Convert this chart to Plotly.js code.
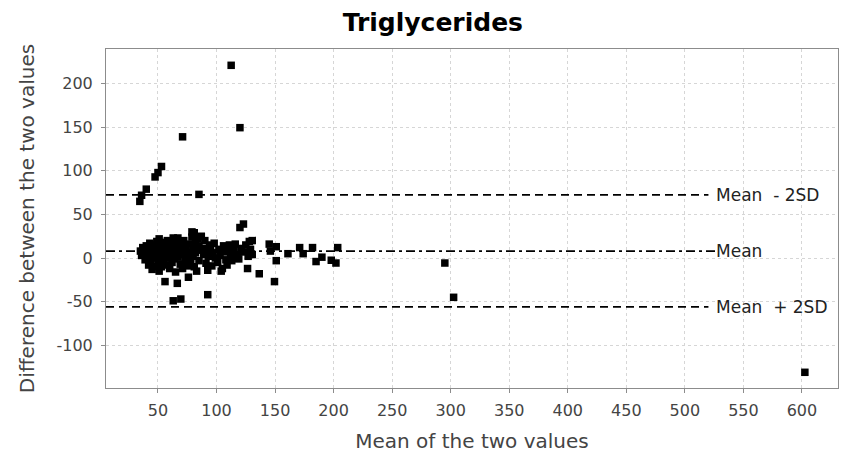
<!DOCTYPE html>
<html>
<head>
<meta charset="utf-8">
<script src="https://cdn.plot.ly/plotly-3.0.1.min.js"></script>
<style>html,body{margin:0;padding:0;background:#fff;}#chart{width:847px;height:461px;}</style>
</head>
<body>
<div id="chart"></div>
<script>
// Bland-Altman data: mean of the two values (x) and their difference (y)
const meanVals = [
  112.5, 120, 71, 53, 50, 47.5, 40, 36, 34.5, 85, 123, 120,
  56, 66.5, 76, 63, 69.5, 92.5, 92.5, 104, 126.5, 136.5, 149.5, 151,
  145, 151, 146, 161, 171, 174, 182, 185, 190, 198, 202, 203.5,
  130.5, 130.5, 128, 111, 94, 81, 295, 302.5, 602.5,
  35, 36, 37, 38, 39, 40, 41, 42, 42, 43, 44, 44, 45, 45,
  46, 47, 47, 48, 49, 49, 50, 50, 51, 51, 52, 52, 53, 53, 54, 54, 55, 55,
  56, 57, 57, 58, 58, 59, 60, 60, 61, 62, 62, 63, 63, 64, 65, 65,
  66, 67, 67, 68, 69, 70, 70, 71, 72, 72, 73, 74, 75, 75,
  76, 77, 78, 79, 79, 80, 80, 81, 82, 82, 83, 84, 84, 85, 85,
  87, 88, 89, 90, 91, 92, 93, 95, 96, 97, 98, 99,
  101, 102, 103, 105, 106, 107, 108, 109, 110, 112, 113, 115, 116, 118, 119, 121, 123, 125, 127, 129
];
const diffVals = [
  221, 149.5, 139, 105, 98, 93, 79, 72, 65, 73, 39, 35,
  -27, -29, -22, -49, -47, -42, -14, -15, -12, -18, -27, -3,
  16, 13, 8, 5, 12, 5, 12, -4, 1, -2.5, -5.7, 12,
  20, 4, 19, 15, 15, 29, -5.7, -45, -131,
  8, 3, 12, 6, -2, 14, 9, 2, -8, 17, 11, -4, 5, -13,
  15, 9, 0, -10, 19, 4, 12, -6, 22, -15, 7, 0, 15, -10, 18, 3, -4, 10,
  14, 5, -8, 20, 0, 10, -12, 16, 3, 8, -5, 23, 13, -1, 6, -16,
  17, 23, 1, 10, -7, 14, 4, -12, 20, 8, -2, 12, 3, -9,
  16, 7, -4, 24, 30, 12, 2, -10, 18, 6, -15, 22, 9, -3, 14,
  25, 11, 4, 20, -6, 9, 2, 12, -9, 6, 17, 0,
  -5, 10, 3, -12, 14, 7, -2, -8, 12, 5, -3, 9, 16, 4, -1, 11, 7, 15, 2, 10
];

// Reference lines (as labelled in the original chart)
const limitNames = ["Mean  - 2SD", "Mean", "Mean  + 2SD"];
const limitValues = [72.5, 8, -56];
const limitDash = ["8px,5px", "9px,4px,3px,4px", "8px,5px"];

const xTicks = [50, 100, 150, 200, 250, 300, 350, 400, 450, 500, 550, 600];
const yTicks = [-100, -50, 0, 50, 100, 150, 200];

const trace = {
  type: "scatter",
  mode: "markers",
  x: meanVals,
  y: diffVals,
  marker: {symbol: "square", size: 7.5, color: "#000000", line: {width: 0}},
  hoverinfo: "x+y"
};

const shapes = limitValues.map((v, i) => ({
  type: "line", xref: "paper", yref: "y",
  x0: 0, x1: i === 1 ? 0.832 : 0.823, y0: v, y1: v,
  line: {color: "#000000", width: 1.8, dash: limitDash[i]}
}));

const annotations = limitValues.map((v, i) => ({
  xref: "paper", yref: "y", x: 0.831, y: v,
  xanchor: "left", yanchor: "middle", showarrow: false,
  text: limitNames[i],
  font: {family: "DejaVu Sans", size: 17, color: "#222222"}
}));

const layout = {
  width: 847, height: 461,
  margin: {l: 106, r: 9, t: 49, b: 73, pad: 0},
  paper_bgcolor: "#ffffff", plot_bgcolor: "#ffffff",
  showlegend: false,
  font: {family: "DejaVu Sans", color: "#444444"},
  title: {
    text: "<b>Triglycerides</b>",
    font: {family: "DejaVu Sans", size: 25, color: "#000000"},
    x: 0.511, xref: "container", xanchor: "center",
    y: 0.952, yref: "container", yanchor: "middle"
  },
  xaxis: {
    range: [5.6, 630.8],
    tickvals: xTicks, ticktext: xTicks.map(String),
    showgrid: true, gridcolor: "#d6d6d6", gridwidth: 1, griddash: "3px,3px",
    zeroline: false,
    showline: true, mirror: true, linecolor: "#8c8c8c", linewidth: 1,
    ticks: "outside", ticklen: 4, tickcolor: "#8c8c8c",
    ticklabelstandoff: 4,
    tickfont: {family: "DejaVu Sans", size: 16, color: "#444444"},
    title: {text: "Mean of the two values", standoff: 14,
            font: {family: "DejaVu Sans", size: 20, color: "#444444"}},
    automargin: false
  },
  yaxis: {
    range: [-149, 239.7],
    tickvals: yTicks, ticktext: yTicks.map(String),
    showgrid: true, gridcolor: "#d6d6d6", gridwidth: 1, griddash: "3px,3px",
    zeroline: false,
    showline: true, mirror: true, linecolor: "#8c8c8c", linewidth: 1,
    ticks: "outside", ticklen: 4, tickcolor: "#8c8c8c",
    ticklabelstandoff: 5,
    tickfont: {family: "DejaVu Sans", size: 16, color: "#444444"},
    title: {text: "Difference between the two values", standoff: 16,
            font: {family: "DejaVu Sans", size: 20, color: "#444444"}},
    automargin: false
  },
  shapes: shapes,
  annotations: annotations
};

Plotly.newPlot("chart", [trace], layout, {displayModeBar: false, staticPlot: true});
</script>
</body>
</html>
